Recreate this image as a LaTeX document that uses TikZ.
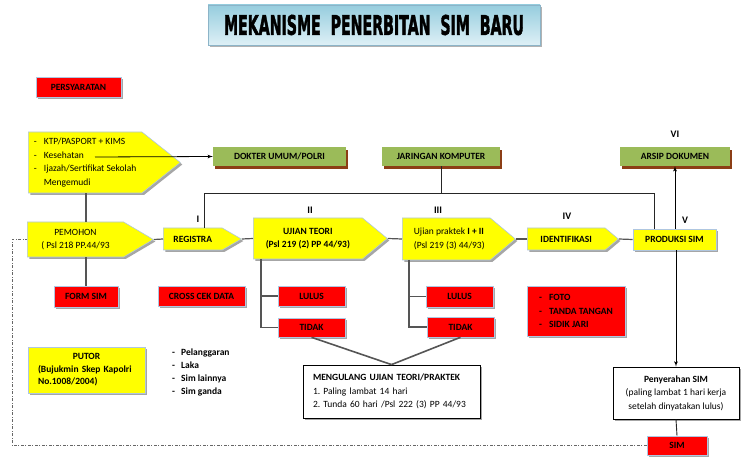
\documentclass[tikz,border=0pt]{standalone}
\usepackage{graphicx}
\usepackage{fontspec}
\setmainfont{Carlito}
\newfontfamily\titlefont{DejaVu Sans}[BoldFeatures={FakeBold=2.5}]
\usetikzlibrary{arrows, shapes.symbols, shadows}

\definecolor{boxred}{RGB}{255,0,0}
\definecolor{boxyellow}{RGB}{255,255,0}
\definecolor{boxgreen}{RGB}{155,187,89}
\definecolor{greenshade}{RGB}{140,62,22}
\definecolor{edgeblue}{RGB}{175,198,224}
\definecolor{linegray}{RGB}{85,85,85}
\definecolor{titletop}{RGB}{150,205,222}
\definecolor{titlebot}{RGB}{222,240,246}
\definecolor{titleedge}{RGB}{140,180,200}

\begin{document}
\begin{tikzpicture}
        [x=1pt, y=-1pt,
        font=\fontsize{9.5}{13.5}\selectfont,
        box/.style={rectangle, draw=edgeblue, line width=0.6pt, inner sep=2pt,
           drop shadow={shadow xshift=2pt, shadow yshift=-2pt, fill=black!35, opacity=1}},
        redbox/.style={box, fill=boxred, font=\fontsize{9.5}{13.5}\selectfont\bfseries},
        yellowbox/.style={box, fill=boxyellow},
        greenbox/.style={rectangle, fill=boxgreen, minimum height=19pt,
           font=\fontsize{9.5}{13.5}\selectfont\bfseries,
           drop shadow={shadow xshift=1.5pt, shadow yshift=-3pt, fill=greenshade, opacity=1}},
        pentbox/.style={signal, signal to=east, fill=boxyellow, draw=edgeblue,
           line width=0.6pt, anchor=west,
           drop shadow={shadow xshift=2pt, shadow yshift=-2pt, fill=black!35, opacity=1}},
        notebox/.style={rectangle, draw=black, fill=white, line width=0.8pt,
           drop shadow={shadow xshift=2pt, shadow yshift=-2pt, fill=black!35, opacity=1}},
        numeral/.style={font=\fontsize{10}{12}\selectfont\bfseries},
        conn/.style={draw=linegray, line width=1.2pt},
        link/.style={draw=black!85, line width=0.9pt},
        arr/.style={->, >=latex', draw=black, line width=0.8pt},
        loopback/.style={draw=black!60, line width=0.9pt,
           dash pattern=on 3pt off 1.5pt on 1pt off 1.5pt}]
        \useasboundingbox (0,0) rectangle (750,465);

        % title
        \node (title) at (374,25) [rectangle, minimum width=332pt, minimum height=40pt,
           top color=titletop, bottom color=titlebot, draw=titleedge,
           drop shadow={shadow xshift=2pt, shadow yshift=-2pt, fill=black!30, opacity=1}]
           {\resizebox{300pt}{20pt}{\titlefont\bfseries MEKANISME\ \ PENERBITAN\ \ SIM\ \ BARU}};

        \node (syarat) at (78.5,87) [redbox, minimum width=85pt, minimum height=20pt] {PERSYARATAN};

        % requirements and the process line
        \node (ktp) at (28,162.5) [pentbox, minimum width=152pt, minimum height=61pt,
           signal pointer angle=77, align=left]
           {\makebox[10pt][l]{-}KTP/PASPORT + KIMS\\
            \makebox[10pt][l]{-}Kesehatan\\
            \makebox[10pt][l]{-}Ijazah/Sertifikat Sekolah\\
            \hspace*{10pt}Mengemudi};
        \coordinate (kes) at (95,157);
        \node (dokter) at (279.5,156.5) [greenbox, minimum width=133pt] {DOKTER UMUM/POLRI};
        \node (jaringan) at (441,156.5) [greenbox, minimum width=118pt] {JARINGAN KOMPUTER};
        \node (arsip) at (675,156.5) [greenbox, minimum width=110pt] {ARSIP DOKUMEN};

        \node (pemohon) at (27,239.5) [pentbox, minimum width=126pt, minimum height=35pt,
           signal pointer angle=61, align=center] {PEMOHON\\( Psl 218 PP.44/93};
        \node (registra) at (163,239) [pentbox, minimum width=78pt, minimum height=22pt,
           signal pointer angle=60, font=\fontsize{9.5}{13.5}\selectfont\bfseries] {REGISTRA};
        \node (teori) at (253,238.5) [pentbox, minimum width=134pt, minimum height=41pt,
           signal pointer angle=79, align=center, font=\fontsize{9.5}{13.5}\selectfont\bfseries]
           {UJIAN TEORI\\(Psl 219 (2) PP 44/93)};
        \node (praktek) at (402,239) [pentbox, minimum width=113pt, minimum height=42pt,
           signal pointer angle=80, align=left]
           {\hspace*{6pt}Ujian praktek \textbf{I + II}\\\hspace*{6pt}(Psl 219 (3) 44/93)};
        \node (identi) at (527,239) [pentbox, minimum width=91pt, minimum height=22pt,
           signal pointer angle=80, font=\fontsize{9.5}{13.5}\selectfont\bfseries] {IDENTIFIKASI};
        \node (produksi) at (674.5,239.5) [yellowbox, minimum width=83pt, minimum height=21pt,
           font=\fontsize{9.5}{13.5}\selectfont\bfseries] {PRODUKSI SIM};

        % step numbers
        \node (n1) at (198,219) [numeral] {I};
        \node (n2) at (310,210) [numeral] {II};
        \node (n3) at (438,210) [numeral] {III};
        \node (n4) at (567,216) [numeral] {IV};
        \node (n5) at (685,220) [numeral] {V};
        \node (n6) at (675,134) [numeral] {VI};

        % results
        \node (form) at (86,296.5) [redbox, minimum width=64pt, minimum height=21pt] {FORM SIM};
        \node (cek) at (201.5,296) [redbox, minimum width=87pt, minimum height=20pt] {CROSS CEK DATA};
        \node (lulus1) at (311.5,296) [redbox, minimum width=67pt, minimum height=20pt] {LULUS};
        \node (tidak1) at (311.5,327.5) [redbox, minimum width=67pt, minimum height=19pt] {TIDAK};
        \node (lulus2) at (459.5,296.5) [redbox, minimum width=67pt, minimum height=21pt] {LULUS};
        \node (tidak2) at (460.5,327) [redbox, minimum width=67pt, minimum height=20pt] {TIDAK};
        \node (foto) at (576,311) [redbox, minimum width=98pt, minimum height=50pt, align=left]
           {\makebox[10pt][l]{-}FOTO\\
            \makebox[10pt][l]{-}TANDA TANGAN\\
            \makebox[10pt][l]{-}SIDIK JARI};

        \node (ulang) at (391.5,391.5) [notebox, minimum width=177pt, minimum height=53pt,
           inner xsep=10pt, text width=157pt, align=left]
           {\textbf{MENGULANG UJIAN TEORI/PRAKTEK}\\
            1.~Paling lambat 14 hari\\
            2.~Tunda 60 hari /Psl 222 (3) PP 44/93};
        \node (putor) at (86.5,370) [yellowbox, minimum width=117pt, minimum height=46pt,
           inner xsep=10pt, text width=97pt, align=left,
           font=\fontsize{9.5}{12.5}\selectfont\bfseries]
           {\makebox[97pt]{PUTOR}\\(Bujukmin Skep Kapolri\\No.1008/2004)};
        \node (langgar) at (172,372.5) [anchor=west, inner sep=0pt, align=left,
           font=\fontsize{9.5}{13}\selectfont\bfseries]
           {\makebox[9pt][l]{-}Pelanggaran\\
            \makebox[9pt][l]{-}Laka\\
            \makebox[9pt][l]{-}Sim lainnya\\
            \makebox[9pt][l]{-}Sim ganda};
        \node (serah) at (676,393) [notebox, minimum width=126pt, minimum height=52pt, align=center]
           {\textbf{Penyerahan SIM}\\(paling lambat 1 hari kerja\\setelah dinyatakan lulus)};
        \node (sim) at (677,445.5) [redbox, minimum width=60pt, minimum height=19pt] {SIM};

        % connectors
        \coordinate (tl) at (204,193);
        \coordinate (tr) at (654,193);
        \coordinate (u1) at (261,259);
        \coordinate (u2) at (409,260);
        \coordinate (cl) at (12,239.5);
        \path (kes) edge[arr] (dokter.west);
        \draw[conn] (ktp.south -| form.north) -- (pemohon.north -| form.north);
        \draw[conn] (pemohon.south -| form.north) -- (form.north);
        \path (pemohon.east) edge[conn] (registra.west);
        \path (registra.east) edge[conn] (teori.west);
        \path (teori.east) edge[conn] (praktek.west);
        \path (praktek.east) edge[conn] (identi.west);
        \path (identi.east) edge[conn] (produksi.west);
        \draw[link] (registra.north -| tl) -- (tl) -- (tr) -- (produksi.north -| tr);
        \draw[link] (jaringan.south) -- (jaringan.south |- tl);
        \draw[conn] (u1) |- (tidak1.west);
        \draw[conn] (u1 |- lulus1.west) -- (lulus1.west);
        \draw[conn] (u2) |- (tidak2.west);
        \draw[conn] (u2 |- lulus2.west) -- (lulus2.west);
        \path (tidak1.south) edge[conn, line width=1.6pt] (ulang.north);
        \path (tidak2.south) edge[conn, line width=1.6pt] (ulang.north);
        \draw[arr] (produksi.north -| arsip.south) -- (arsip.south);
        \draw[arr] (serah.north |- produksi.south) -- (serah.north);
        \path (serah.south) edge[link] (sim.north);
        \draw[loopback] (sim.west) -| (cl) -- (pemohon.west);
\end{tikzpicture}
\end{document}
